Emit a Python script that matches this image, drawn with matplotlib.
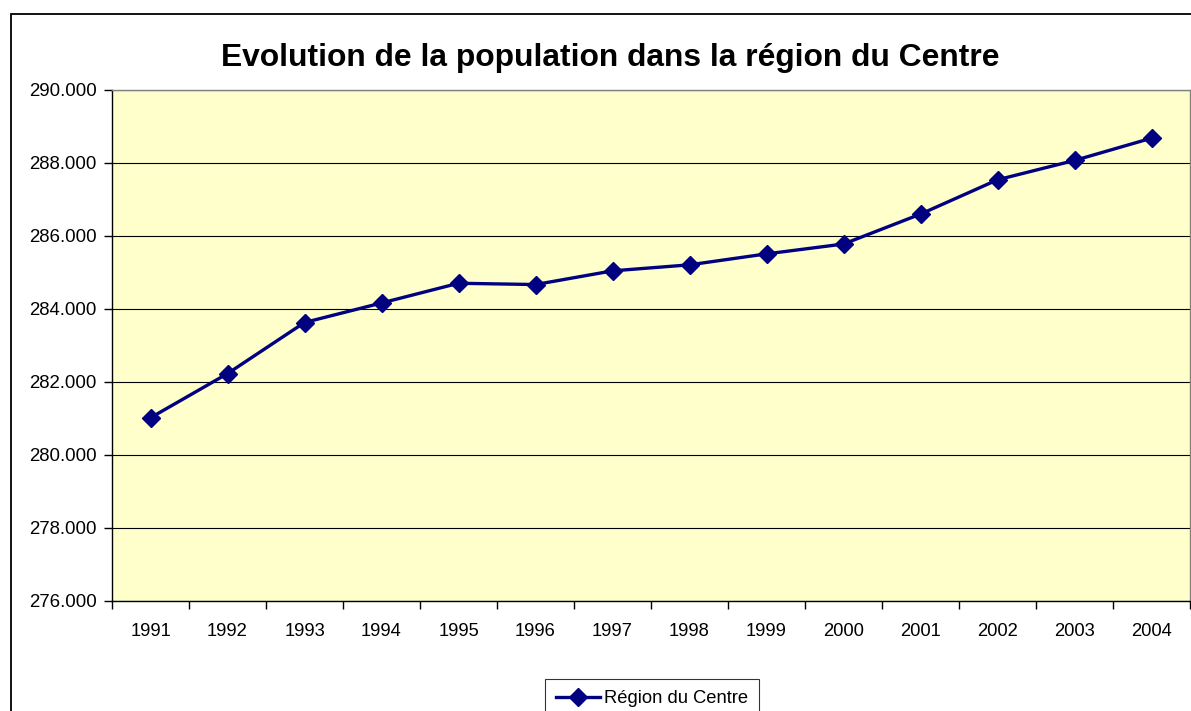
import matplotlib
matplotlib.use("Agg")
import matplotlib.pyplot as plt
from matplotlib.ticker import FuncFormatter, FixedLocator
from matplotlib.patches import Rectangle

# data
years = ["1991", "1992", "1993", "1994", "1995", "1996", "1997",
         "1998", "1999", "2000", "2001", "2002", "2003", "2004"]
population = [281020, 282230, 283630, 284165, 284705, 284670, 285045,
              285210, 285510, 285780, 286600, 287540, 288070, 288680]
series_name = "Région du Centre"
title = "Evolution de la population dans la région du Centre"

plt.rcParams['font.family'] = ['Liberation Sans', 'DejaVu Sans']

fig = plt.figure(figsize=(11.91, 7.11), dpi=100)
ax = fig.add_axes([112 / 1191, 1 - 601 / 711, (1190 - 112) / 1191, (601 - 90) / 711])
ax.set_facecolor("#FFFFCC")

x = list(range(len(years)))
ax.plot(x, population, color="#000080", lw=2.4, marker="D", markersize=9,
        markerfacecolor="#000080", markeredgecolor="#000080", label=series_name)

ax.set_xlim(-0.5, len(years) - 0.5)
ax.set_ylim(276000, 290000)
ax.set_yticks(range(276000, 290001, 2000))
ax.yaxis.set_major_formatter(FuncFormatter(lambda v, p: f"{int(v):,}".replace(",", ".")))
ax.yaxis.grid(True, color="black", lw=0.8)
ax.set_axisbelow(True)

ax.set_xticks(x)
ax.set_xticklabels(years)
ax.xaxis.set_minor_locator(FixedLocator([i - 0.5 for i in range(len(years) + 1)]))
ax.tick_params(axis="x", which="major", length=0, pad=16, labelsize=13.2)
ax.tick_params(axis="x", which="minor", length=6, width=1, direction="out")
ax.tick_params(axis="y", length=6, width=1, direction="out", labelsize=13.4, pad=5)

for s in ["left", "bottom"]:
    ax.spines[s].set_color("black")
    ax.spines[s].set_linewidth(1)
for s in ["top", "right"]:
    ax.spines[s].set_color("#808080")
    ax.spines[s].set_linewidth(1)

fig.text(610 / 1191, 1 - 58 / 711, title, ha="center", va="center",
         fontsize=22.9, fontweight="bold")

leg = fig.legend(loc="upper center", bbox_to_anchor=(652 / 1191, 1 - 679 / 711),
                 fontsize=13.2, frameon=True, fancybox=False, edgecolor="black",
                 handlelength=2.4, handletextpad=0.2, borderpad=0.6,
                 borderaxespad=0)
leg.get_frame().set_linewidth(0.8)

# chart area border
fig.patches.append(Rectangle((11 / 1191, -0.05), 1.2, 1 - 14 / 711 + 0.05,
                             transform=fig.transFigure, fill=False,
                             edgecolor="black", lw=1.3))

fig.savefig("out.png", dpi=100)
